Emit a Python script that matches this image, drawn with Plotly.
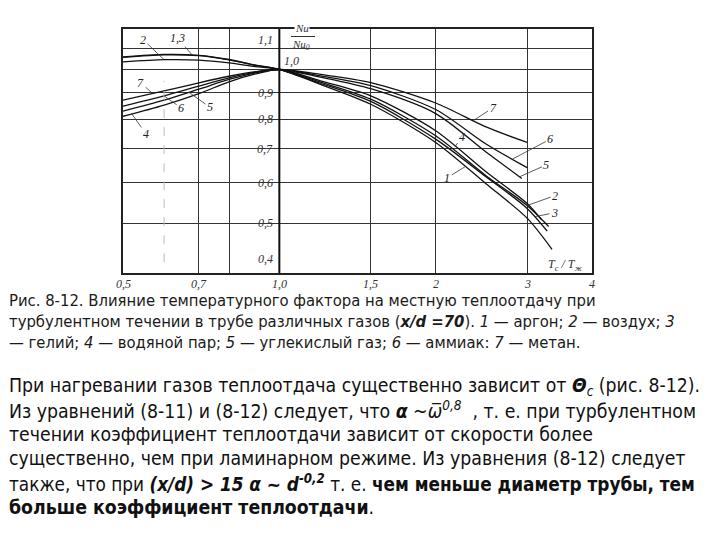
import numpy as np
import plotly.graph_objects as go

# ---------------- data ----------------
curve1_x = [0.5, 0.6, 0.7, 0.8, 0.9, 1.0, 1.2, 1.5, 2.0, 2.5, 3.0, 3.35]
curve1_y = [1.058, 1.070, 1.066, 1.046, 1.020, 1.0, 0.935, 0.855, 0.720, 0.598, 0.512, 0.445]
curve2_x = [0.5, 0.6, 0.7, 0.8, 0.9, 1.0, 1.2, 1.5, 2.0, 2.5, 3.0, 3.3]
curve2_y = [1.035, 1.045, 1.043, 1.030, 1.013, 1.0, 0.945, 0.875, 0.742, 0.620, 0.542, 0.493]
curve3_x = [0.5, 0.6, 0.7, 0.8, 0.9, 1.0, 1.2, 1.5, 2.0, 2.5, 3.0, 3.28]
curve3_y = [1.056, 1.068, 1.064, 1.044, 1.019, 1.0, 0.940, 0.866, 0.731, 0.617, 0.535, 0.483]
curve4_x = [0.5, 0.6, 0.7, 0.8, 0.9, 1.0, 1.2, 1.5, 2.0, 2.5, 3.0, 3.2]
curve4_y = [0.810, 0.852, 0.897, 0.946, 0.980, 1.0, 0.950, 0.888, 0.759, 0.631, 0.547, 0.508]
curve5_x = [0.5, 0.6, 0.7, 0.8, 0.9, 1.0, 1.2, 1.5, 2.0, 2.5, 2.93]
curve5_y = [0.829, 0.871, 0.915, 0.956, 0.985, 1.0, 0.966, 0.917, 0.820, 0.690, 0.612]
curve6_x = [0.5, 0.6, 0.7, 0.8, 0.9, 1.0, 1.2, 1.5, 2.0, 2.5, 3.0]
curve6_y = [0.848, 0.888, 0.928, 0.963, 0.988, 1.0, 0.972, 0.930, 0.835, 0.715, 0.643]
curve7_x = [0.5, 0.6, 0.7, 0.8, 0.9, 1.0, 1.2, 1.5, 2.0, 2.5, 3.0]
curve7_y = [0.871, 0.908, 0.942, 0.970, 0.990, 1.0, 0.978, 0.943, 0.860, 0.772, 0.720]

x_grid = [0.7, 0.8, 1.5, 2, 3]
y_grid = [0.5, 0.6, 0.7, 0.8, 0.9, 1.0, 1.1]
x_tick_vals = [0.5, 0.7, 1.0, 1.5, 2, 3, 4]
x_tick_text = ["0,5", "0,7", "1,0", "1,5", "2", "3", "4"]
y_tick_vals = [1.1, 0.9, 0.8, 0.7, 0.6, 0.5, 0.4]
y_tick_text = ["1,1", "0,9", "0,8", "0,7", "0,6", "0,5", "0,4"]

caption_lines = [
    "Рис. 8-12. Влияние температурного фактора на местную теплоотдачу при",
    "турбулентном течении в трубе различных газов (<b><i>x/d =70</i></b>). <i>1</i> — аргон; <i>2</i> — воздух; <i>3</i>",
    "— гелий; <i>4</i> — водяной пар; <i>5</i> — углекислый газ; <i>6</i> — аммиак: <i>7</i> — метан.",
]
para_lines = [
    "При нагревании газов теплоотдача существенно зависит от <b><i>Θ</i></b><sub><i>c</i></sub> (рис. 8-12).",
    "Из уравнений (8-11) и (8-12) следует, что <b><i>α</i></b> ~<i>ω̅</i><sup><i>0,8</i></sup>  , т. е. при турбулентном",
    "течении коэффициент теплоотдачи зависит от скорости более",
    "существенно, чем при ламинарном режиме. Из уравнения (8-12) следует",
    "также, что при <b><i>(x/d) &gt; 15 α ~ d</i></b><sup><b><i>-0,2</i></b></sup> т. е. <b>чем меньше диаметр трубы, тем</b>",
    "<b>больше коэффициент теплоотдачи</b>.",
]
para_sizes = [19.3, 19.3, 19.3, 19.3, 18.8, 19.3]

curves = [
    (curve1_x, curve1_y), (curve2_x, curve2_y), (curve3_x, curve3_y),
    (curve4_x, curve4_y), (curve5_x, curve5_y), (curve6_x, curve6_y),
    (curve7_x, curve7_y),
]

def on_curve(i, xv):
    cx, cy = curves[i - 1]
    return float(10 ** np.interp(np.log10(xv), np.log10(cx), np.log10(cy)))

W, H = 720, 540
L, R, T, B = 123, 592, 29, 273

fig = go.Figure()
for cx, cy in curves:
    fig.add_trace(go.Scatter(x=cx, y=cy, mode="lines",
                             line=dict(color="#111", width=1.3, shape="spline", smoothing=0.8),
                             hoverinfo="skip", showlegend=False))

fig.update_layout(
    width=W, height=H, margin=dict(l=0, r=0, t=0, b=0),
    paper_bgcolor="white", plot_bgcolor="white",
    font=dict(family="Liberation Sans, Arial, sans-serif", size=12, color="#111"),
    showlegend=False,
)
fig.update_xaxes(type="log", range=[np.log10(0.5), np.log10(4)],
                 domain=[L / W, R / W], tickvals=x_grid, showticklabels=False,
                 ticks="", showgrid=True, gridcolor="#333", gridwidth=1.1,
                 showline=True, mirror=True, linecolor="#222", linewidth=1.8,
                 zeroline=False)
fig.update_yaxes(type="log", range=[np.log10(0.4), np.log10(1.2)],
                 domain=[1 - B / H, 1 - T / H], tickvals=y_grid, showticklabels=False,
                 ticks="", showgrid=True, gridcolor="#333", gridwidth=1.1,
                 showline=True, mirror=True, linecolor="#222", linewidth=1.8,
                 zeroline=False)

# faint partial grid line at 0.6 and thick x = 1 axis
fig.add_shape(type="line", x0=0.6, x1=0.6, y0=0.42, y1=0.95, xref="x", yref="y",
              line=dict(color="#bbb", width=1, dash="dash"))
fig.add_shape(type="line", x0=1.0, x1=1.0, y0=0.4, y1=1.2, xref="x", yref="y",
              line=dict(color="#111", width=2))

ann = []
tick_font = dict(family="Liberation Serif, serif", size=12, color="#333")
for v, t in zip(x_tick_vals, x_tick_text):
    ann.append(dict(x=np.log10(v), y=1 - 284 / H, xref="x", yref="paper", text=f"<i>{t}</i>",
                    showarrow=False, font=tick_font, xanchor="center", yanchor="middle"))
for v, t in zip(y_tick_vals, y_tick_text):
    yy = np.log10(v)
    ys = 0
    if t == "1,1":
        ys = 8
    if t == "0,4":
        ys = 14
    ann.append(dict(x=0, y=yy, xref="x", yref="y", text=f"<i>{t}</i>", showarrow=False,
                    font=tick_font, xanchor="right", yanchor="middle", xshift=-4, yshift=ys))
ann.append(dict(x=0, y=0, xref="x", yref="y", text="<i>1,0</i>", showarrow=False,
                font=tick_font, xanchor="left", yanchor="middle", xshift=3, yshift=8))
# Nu / Nu0
nu_font = dict(family="Liberation Serif, serif", size=11, color="#333")
ann.append(dict(x=0, y=1 - 28 / H, xref="x", yref="paper", text="<i>Nu</i>", showarrow=False,
                font=nu_font, xanchor="left", yanchor="middle", xshift=15, bgcolor="white",
                borderpad=0))
ann.append(dict(x=0, y=1 - 45 / H, xref="x", yref="paper", text="<i>Nu<sub>0</sub></i>", showarrow=False,
                font=nu_font, xanchor="left", yanchor="middle", xshift=12, borderpad=0))
fig.add_shape(type="line", x0=291 / W, x1=315 / W, y0=1 - 36.5 / H, y1=1 - 36.5 / H,
              xref="paper", yref="paper", line=dict(color="#333", width=1))
ann.append(dict(x=np.log10(3.55), y=np.log10(0.415), xref="x", yref="y",
                text="<i>T<sub>c</sub> / T<sub>ж</sub></i>", showarrow=False,
                font=dict(family="Liberation Serif, serif", size=12, color="#333")))

# curve labels with leader lines
lab_font = dict(family="Liberation Serif, serif", size=12, color="#222")
labels = [
    ("2", 2, 0.6, -21, -20), ("1,3", 1, 0.68, -15, -17), ("7", 7, 0.57, -12, -11),
    ("6", 6, 0.6, 17, 12), ("5", 5, 0.67, 21, 15), ("4", 4, 0.52, 14, 20),
    ("7", 7, 2.36, 20, -13), ("6", 6, 2.81, 38, -20), ("5", 5, 2.9, 27, -12),
    ("4", 4, 2.18, 7, -10), ("1", 1, 2.28, -18, 11), ("2", 2, 3.0, 28, -10),
    ("3", 3, 3.1, 20, -4),
]
for txt, ci, xv, axo, ayo in labels:
    ann.append(dict(x=np.log10(xv), y=np.log10(on_curve(ci, xv)), xref="x", yref="y",
                    text=f"<i>{txt}</i>", showarrow=True, arrowhead=0, arrowwidth=0.8,
                    arrowcolor="#333", ax=axo, ay=ayo, font=lab_font, standoff=0))

text_family = "DejaVu Sans Condensed, Liberation Sans Narrow, Liberation Sans, Arial, sans-serif"
text_font = dict(family=text_family, size=16.5, color="#1a1a1a")
for i, t in enumerate(caption_lines):
    ann.append(dict(x=7 / W, y=1 - (300 + 21 * i) / H, xref="paper", yref="paper", text=t,
                    showarrow=False, xanchor="left", yanchor="middle", font=text_font))
for i, t in enumerate(para_lines):
    ann.append(dict(x=7 / W, y=1 - (386 + 24.2 * i) / H, xref="paper", yref="paper", text=t,
                    showarrow=False, xanchor="left", yanchor="middle",
                    font=dict(family=text_family, size=para_sizes[i], color="#111")))

fig.update_layout(annotations=ann)
fig.write_html("out.html", config={"displayModeBar": False},
               post_script="document.body.style.margin='0px';")
